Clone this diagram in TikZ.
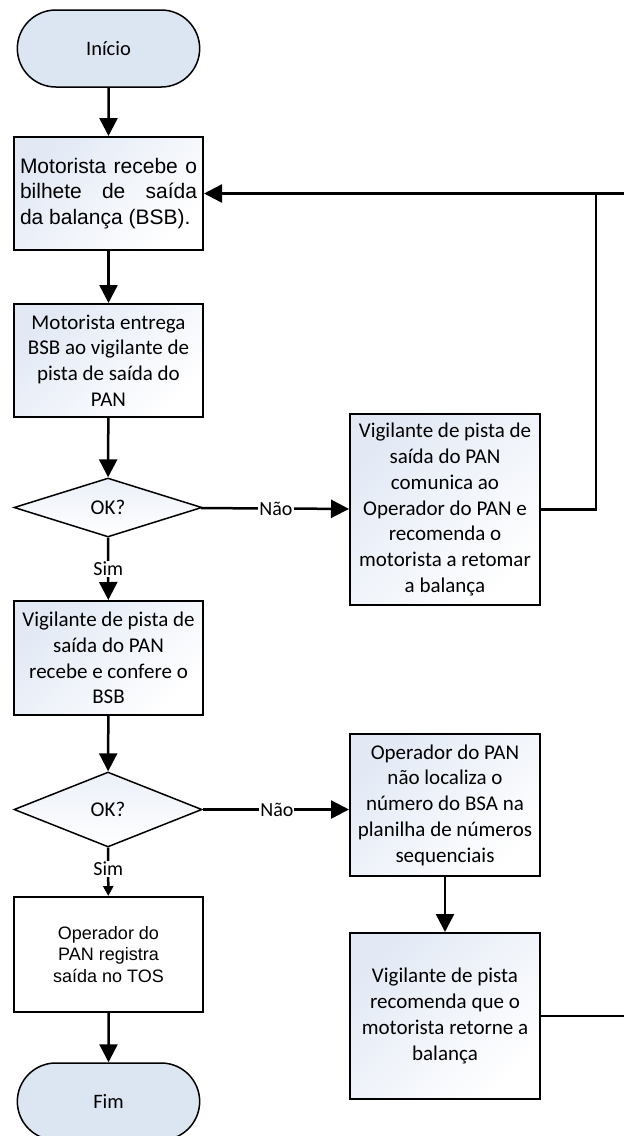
\documentclass[tikz,border=0pt]{standalone}
\usepackage{fontspec}
\setmainfont{Carlito}
\newfontfamily\arialfont{Liberation Sans}
\usetikzlibrary{arrows.meta,shapes.geometric,shapes.misc}

\definecolor{termfill}{HTML}{DCE6F2}
\definecolor{boxtint}{HTML}{E2E9F5}

\tikzset{
    calib/.style={font=\fontsize{20}{25.7}\selectfont},
    boxfont/.style={font=\fontsize{21}{25.7}\selectfont},
    terminal/.style={draw, line width=1.5pt, rounded rectangle, fill=termfill,
        minimum width=189pt, minimum height=77pt, font=\fontsize{20.5}{25.7}\selectfont},
    stepbox/.style={draw, line width=2pt, rectangle, top color=boxtint, bottom color=white,
        shading angle=45, inner sep=4pt, align=center, boxfont},
    decision/.style={draw, line width=1.5pt, diamond, top color=boxtint!70, bottom color=white,
        minimum width=188pt, inner sep=0pt, boxfont},
    flow/.style={line width=2.5pt, -{Triangle[width=18pt, length=18pt]}},
    smallflow/.style={line width=2.5pt, -{Triangle[width=10pt, length=10pt]}},
    wire/.style={line width=2.5pt},
    lbl/.style={fill=white, inner sep=1pt, calib}
}

\begin{document}
\begin{tikzpicture}[x=1pt, y=-1pt]
    \useasboundingbox (0,0) rectangle (624,1136);

    % left column
    \node[terminal] (start) at (108.5,48.5) {Início};
    \node[stepbox, minimum width=189pt, minimum height=113pt, text width=177pt, align=justify,
        font=\arialfont\fontsize{21}{25.5}\selectfont] (receive) at (108.5,193.5)
        {Motorista recebe o\linebreak bilhete de saída\linebreak da balança (BSB).};
    \node[stepbox, minimum width=189pt, minimum height=113pt] (handover) at (108.5,360.5)
        {Motorista entrega\\BSB ao vigilante de\\pista de saída do\\PAN};
    \node[decision, minimum height=59pt] (checkA) at (108,507.5) {OK?};
    \node[stepbox, minimum width=189pt, minimum height=114pt] (inspect) at (108.5,658)
        {Vigilante de pista de\\saída do PAN\\recebe e confere o\\BSB};
    \node[decision, minimum height=75pt] (checkB) at (108,809.5) {OK?};
    \node[draw, line width=2pt, fill=white, minimum width=189pt, minimum height=115pt, align=center,
        font=\arialfont\fontsize{18}{21.5}\selectfont] (register) at (108.5,954.5)
        {Operador do\\PAN registra\\saída no TOS};
    \node[terminal] (finish) at (108.5,1101.5) {Fim};

    % right column
    \node[stepbox, minimum width=190pt, minimum height=191pt] (notify) at (445,509.5)
        {Vigilante de pista de\\saída do PAN\\comunica ao\\Operador do PAN e\\recomenda o\\motorista a retomar\\a balança};
    \node[stepbox, minimum width=190pt, minimum height=142pt] (missing) at (445,805)
        {Operador do PAN\\não localiza o\\número do BSA na\\planilha de números\\sequenciais};
    \node[stepbox, minimum width=190pt, minimum height=166pt] (advise) at (445,1016)
        {Vigilante de pista\\recomenda que o\\motorista retorne a\\balança};

    \coordinate (loopTop) at (596,193.5);
    \coordinate (edgeTop) at (624,193.5);
    \coordinate (edgeBot) at (624,1016);

    \draw[flow] (start) -- (receive);
    \draw[flow] (receive) -- (handover);
    \draw[flow] (handover) -- (checkA);
    \draw[flow] (checkA) -- node[lbl] {Sim} (inspect);
    \draw[flow] (checkA) -- node[lbl, xshift=1pt] {Não} (notify);
    \draw[flow] (inspect) -- (checkB);
    \draw[smallflow] (checkB) -- node[lbl, yshift=3pt] {Sim} (register);
    \draw[flow] (checkB.east) -- node[lbl, xshift=1pt] {Não} (missing.west |- checkB.east);
    \draw[flow] (register) -- (finish);
    \draw[flow] (missing) -- (advise);

    % back to the weighbridge
    \draw[flow] (notify.east) -| (loopTop) -- (receive.east);
    \draw[wire] (loopTop) -- (edgeTop);
    \draw[wire] (advise.east) -- (edgeBot);
\end{tikzpicture}
\end{document}
